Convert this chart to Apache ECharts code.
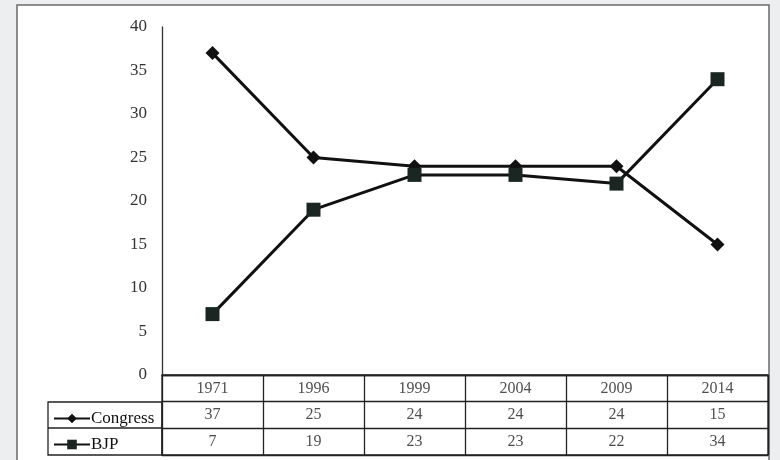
<!DOCTYPE html>
<html>
<head>
<meta charset="utf-8">
<script src="https://cdn.jsdelivr.net/npm/echarts@6/dist/echarts.min.js"></script>
<style>
  html, body { margin: 0; padding: 0; background: #e9ecef; }
  #chart { width: 780px; height: 460px; }
</style>
</head>
<body>
<div id="chart"></div>
<script>
// 数据
const years = ['1971', '1996', '1999', '2004', '2009', '2014'];
const congress = [37, 25, 24, 24, 24, 15];
const bjp = [7, 19, 23, 23, 22, 34];
const yTicks = [0, 5, 10, 15, 20, 25, 30, 35, 40];
const tableRows = ['year', 'Congress', 'BJP'];

const serif = '"Liberation Serif", "DejaVu Serif", serif';

// 表格单元格
const cells = [];
years.forEach((y, i) => {
    cells.push([y, 'year', y]);
    cells.push([y, 'Congress', congress[i]]);
    cells.push([y, 'BJP', bjp[i]]);
});

const chart = echarts.init(document.getElementById('chart'));
const option = {
    backgroundColor: '#eceef0',
    animation: false,
    graphic: [
        // 外框 + 白底
        { type: 'rect', z: -10, shape: { x: 17, y: 5, width: 752, height: 470 },
          style: { fill: '#ffffff', stroke: '#6a6a6a', lineWidth: 1.5 } },
        // 左侧图例栏
        { type: 'rect', z: 10, shape: { x: 48, y: 402, width: 114, height: 53 },
          style: { fill: 'none', stroke: '#222', lineWidth: 1.3 } },
        { type: 'line', z: 10, shape: { x1: 48, y1: 428, x2: 162, y2: 428 },
          style: { stroke: '#222', lineWidth: 1.3 } }
    ],
    legend: {
        orient: 'vertical',
        left: 48,
        top: 405,
        itemGap: 9,
        itemWidth: 36,
        itemHeight: 12,
        textStyle: { fontFamily: serif, fontSize: 17, color: '#111', padding: [0, 0, 0, -4] },
        data: ['Congress', 'BJP']
    },
    grid: [
        { left: 162, right: 12, top: 27, bottom: 85 },
        { left: 162, right: 12, top: 375, bottom: 5, show: true, borderColor: '#222', borderWidth: 1.3 }
    ],
    xAxis: [
        {
            gridIndex: 0, type: 'category', data: years,
            axisLine: { lineStyle: { color: '#222', width: 1.3 } },
            axisTick: { show: false }, axisLabel: { show: false }
        },
        {
            gridIndex: 1, type: 'category', data: years,
            axisLine: { show: false }, axisTick: { show: false }, axisLabel: { show: false },
            splitLine: { show: true, lineStyle: { color: '#222', width: 1.3 } }
        }
    ],
    yAxis: [
        {
            gridIndex: 0, type: 'value', min: 0, max: 40, interval: 5,
            axisLine: { show: true, lineStyle: { color: '#333', width: 1.3 } },
            axisTick: { show: false },
            splitLine: { show: false },
            axisLabel: {
                color: '#333', fontFamily: serif, fontSize: 17, margin: 15,
                formatter: v => yTicks.includes(v) ? String(v) : ''
            }
        },
        {
            gridIndex: 1, type: 'category', data: tableRows, inverse: true,
            axisLine: { show: false }, axisTick: { show: false }, axisLabel: { show: false },
            splitLine: { show: true, lineStyle: { color: '#222', width: 1.3 } }
        }
    ],
    series: [
        {
            name: 'Congress', type: 'line', data: congress,
            symbol: 'diamond', symbolSize: 14,
            lineStyle: { color: '#111', width: 3 },
            itemStyle: { color: '#111' }
        },
        {
            name: 'BJP', type: 'line', data: bjp,
            symbol: 'rect', symbolSize: 14,
            lineStyle: { color: '#111', width: 3 },
            itemStyle: { color: '#1b2622' }
        },
        {
            name: 'table', type: 'scatter', xAxisIndex: 1, yAxisIndex: 1,
            data: cells, symbolSize: 0, silent: true,
            label: {
                show: true, position: 'inside',
                formatter: p => String(p.value[2]),
                fontFamily: serif, fontSize: 16, color: '#222'
            }
        }
    ]
};
chart.setOption(option);
</script>
</body>
</html>
